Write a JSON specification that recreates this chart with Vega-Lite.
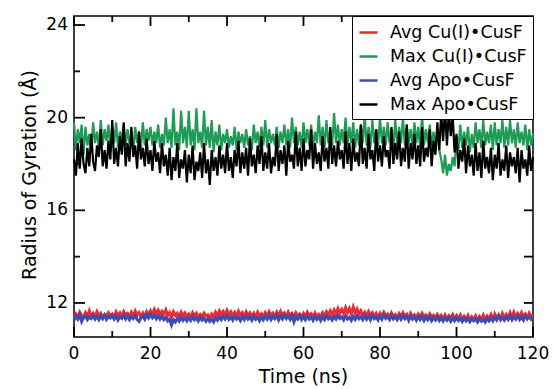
{
"$schema": "https://vega.github.io/schema/vega-lite/v6.json",
"width": 459,
"height": 321,
"autosize": {"type": "none"},
"padding": {"left": 74, "top": 16, "right": 20, "bottom": 52},
"background": "white",
"config": {
  "view": {"stroke": "black", "strokeWidth": 1.5},
  "font": "DejaVu Sans",
  "legend": {"orient": "top-right", "offset": 0, "strokeColor": "black", "strokeWidth": 1, "fillColor": "white", "padding": 6, "rowPadding": 5, "symbolType": "stroke", "symbolSize": 324, "symbolStrokeWidth": 2.5, "labelFontSize": 17.5, "labelOffset": 11, "labelFont": "DejaVu Sans", "labelColor": "black", "cornerRadius": 0}
},
"layer": [
  {
    "data": {"values": [
{"t":0,"a":11.35,"b":19.8,"c":11.25,"d":18.2},
{"t":0.5,"a":11.52,"b":18.6,"c":11.42,"d":17.5},
{"t":1,"a":11.40,"b":19.5,"c":11.30,"d":18.9},
{"t":1.5,"a":11.60,"b":18.9,"c":11.48,"d":17.8},
{"t":2,"a":11.45,"b":19.7,"c":11.20,"d":19.1},
{"t":2.5,"a":11.38,"b":18.4,"c":11.38,"d":18.0},
{"t":3,"a":11.58,"b":19.6,"c":11.45,"d":17.6},
{"t":3.5,"a":11.44,"b":18.8,"c":11.28,"d":18.7},
{"t":4,"a":11.66,"b":19.3,"c":11.40,"d":17.9},
{"t":4.5,"a":11.41,"b":18.5,"c":11.33,"d":19.3},
{"t":5,"a":11.55,"b":19.8,"c":11.46,"d":18.1},
{"t":5.5,"a":11.39,"b":18.9,"c":11.30,"d":17.7},
{"t":6,"a":11.62,"b":19.4,"c":11.42,"d":18.8},
{"t":6.5,"a":11.47,"b":18.7,"c":11.27,"d":18.3},
{"t":7,"a":11.56,"b":19.9,"c":11.44,"d":19.5},
{"t":7.5,"a":11.36,"b":18.8,"c":11.32,"d":17.9},
{"t":8,"a":11.50,"b":19.5,"c":11.47,"d":18.6},
{"t":8.5,"a":11.42,"b":19.0,"c":11.29,"d":17.8},
{"t":9,"a":11.58,"b":19.7,"c":11.41,"d":19.0},
{"t":9.5,"a":11.45,"b":18.6,"c":11.35,"d":18.2},
{"t":10,"a":11.52,"b":19.6,"c":11.45,"d":19.9},
{"t":10.5,"a":11.37,"b":18.9,"c":11.30,"d":18.0},
{"t":11,"a":11.61,"b":19.8,"c":11.43,"d":18.7},
{"t":11.5,"a":11.46,"b":18.7,"c":11.26,"d":17.9},
{"t":12,"a":11.57,"b":19.4,"c":11.40,"d":19.2},
{"t":12.5,"a":11.40,"b":19.0,"c":11.34,"d":18.4},
{"t":13,"a":11.63,"b":19.7,"c":11.48,"d":19.8},
{"t":13.5,"a":11.48,"b":18.8,"c":11.31,"d":17.9},
{"t":14,"a":11.55,"b":19.5,"c":11.44,"d":18.9},
{"t":14.5,"a":11.43,"b":18.9,"c":11.28,"d":18.1},
{"t":15,"a":11.60,"b":19.3,"c":11.42,"d":19.6},
{"t":15.5,"a":11.44,"b":18.6,"c":11.33,"d":18.3},
{"t":16,"a":11.65,"b":19.6,"c":11.46,"d":18.8},
{"t":16.5,"a":11.47,"b":18.9,"c":11.29,"d":17.8},
{"t":17,"a":11.58,"b":19.4,"c":11.20,"d":19.4},
{"t":17.5,"a":11.41,"b":18.7,"c":11.36,"d":18.2},
{"t":18,"a":11.56,"b":19.8,"c":11.44,"d":18.7},
{"t":18.5,"a":11.38,"b":18.8,"c":11.30,"d":17.9},
{"t":19,"a":11.62,"b":19.5,"c":11.48,"d":19.1},
{"t":19.5,"a":11.49,"b":19.0,"c":11.35,"d":18.0},
{"t":20,"a":11.66,"b":19.6,"c":11.50,"d":18.6},
{"t":20.5,"a":11.50,"b":18.8,"c":11.36,"d":17.7},
{"t":21,"a":11.72,"b":19.4,"c":11.47,"d":19.0},
{"t":21.5,"a":11.55,"b":18.9,"c":11.32,"d":18.1},
{"t":22,"a":11.68,"b":19.7,"c":11.45,"d":18.5},
{"t":22.5,"a":11.48,"b":18.7,"c":11.30,"d":17.6},
{"t":23,"a":11.64,"b":19.3,"c":11.42,"d":18.9},
{"t":23.5,"a":11.52,"b":18.8,"c":11.28,"d":17.9},
{"t":24,"a":11.70,"b":20.0,"c":11.38,"d":18.4},
{"t":24.5,"a":11.45,"b":18.9,"c":11.22,"d":17.5},
{"t":25,"a":11.58,"b":19.5,"c":11.30,"d":18.7},
{"t":25.5,"a":11.40,"b":18.7,"c":11.05,"d":17.3},
{"t":26,"a":11.62,"b":20.4,"c":11.28,"d":18.3},
{"t":26.5,"a":11.46,"b":18.8,"c":11.18,"d":17.7},
{"t":27,"a":11.55,"b":19.4,"c":11.34,"d":18.9},
{"t":27.5,"a":11.39,"b":18.6,"c":11.22,"d":17.4},
{"t":28,"a":11.60,"b":20.3,"c":11.38,"d":18.2},
{"t":28.5,"a":11.44,"b":18.9,"c":11.25,"d":17.8},
{"t":29,"a":11.57,"b":19.6,"c":11.36,"d":18.6},
{"t":29.5,"a":11.42,"b":18.7,"c":11.23,"d":17.2},
{"t":30,"a":11.52,"b":20.3,"c":11.37,"d":18.4},
{"t":30.5,"a":11.38,"b":18.8,"c":11.24,"d":17.6},
{"t":31,"a":11.58,"b":19.5,"c":11.40,"d":18.8},
{"t":31.5,"a":11.43,"b":18.6,"c":11.27,"d":17.3},
{"t":32,"a":11.55,"b":20.4,"c":11.35,"d":18.1},
{"t":32.5,"a":11.37,"b":18.9,"c":11.22,"d":17.7},
{"t":33,"a":11.50,"b":19.4,"c":11.38,"d":18.5},
{"t":33.5,"a":11.41,"b":18.7,"c":11.26,"d":17.4},
{"t":34,"a":11.56,"b":20.3,"c":11.34,"d":18.9},
{"t":34.5,"a":11.44,"b":18.8,"c":11.21,"d":17.6},
{"t":35,"a":11.48,"b":19.6,"c":11.33,"d":18.2},
{"t":35.5,"a":11.34,"b":18.7,"c":11.20,"d":17.1},
{"t":36,"a":11.52,"b":19.9,"c":11.30,"d":18.6},
{"t":36.5,"a":11.40,"b":18.5,"c":11.18,"d":17.7},
{"t":37,"a":11.60,"b":19.4,"c":11.36,"d":18.3},
{"t":37.5,"a":11.46,"b":18.8,"c":11.25,"d":17.5},
{"t":38,"a":11.66,"b":19.7,"c":11.40,"d":18.8},
{"t":38.5,"a":11.50,"b":18.6,"c":11.28,"d":17.8},
{"t":39,"a":11.63,"b":19.3,"c":11.42,"d":18.4},
{"t":39.5,"a":11.47,"b":18.9,"c":11.30,"d":17.6},
{"t":40,"a":11.68,"b":19.5,"c":11.45,"d":18.9},
{"t":40.5,"a":11.49,"b":18.7,"c":11.29,"d":17.7},
{"t":41,"a":11.62,"b":19.2,"c":11.40,"d":18.3},
{"t":41.5,"a":11.45,"b":18.8,"c":11.26,"d":17.4},
{"t":42,"a":11.59,"b":19.6,"c":11.43,"d":18.6},
{"t":42.5,"a":11.42,"b":18.6,"c":11.30,"d":17.9},
{"t":43,"a":11.64,"b":19.4,"c":11.38,"d":19.0},
{"t":43.5,"a":11.47,"b":18.9,"c":11.24,"d":17.6},
{"t":44,"a":11.58,"b":19.3,"c":11.41,"d":18.5},
{"t":44.5,"a":11.41,"b":18.7,"c":11.28,"d":17.8},
{"t":45,"a":11.62,"b":19.5,"c":11.44,"d":18.7},
{"t":45.5,"a":11.46,"b":18.8,"c":11.30,"d":17.5},
{"t":46,"a":11.57,"b":19.2,"c":11.39,"d":19.1},
{"t":46.5,"a":11.40,"b":18.6,"c":11.25,"d":17.9},
{"t":47,"a":11.55,"b":19.7,"c":11.42,"d":18.4},
{"t":47.5,"a":11.38,"b":18.9,"c":11.29,"d":17.6},
{"t":48,"a":11.60,"b":19.4,"c":11.37,"d":18.8},
{"t":48.5,"a":11.44,"b":18.7,"c":11.23,"d":18.0},
{"t":49,"a":11.53,"b":19.6,"c":11.40,"d":19.2},
{"t":49.5,"a":11.39,"b":18.8,"c":11.27,"d":17.7},
{"t":50,"a":11.58,"b":19.9,"c":11.43,"d":18.5},
{"t":50.5,"a":11.43,"b":18.7,"c":11.30,"d":17.8},
{"t":51,"a":11.62,"b":19.5,"c":11.46,"d":18.9},
{"t":51.5,"a":11.47,"b":18.9,"c":11.28,"d":17.6},
{"t":52,"a":11.56,"b":19.3,"c":11.41,"d":18.3},
{"t":52.5,"a":11.41,"b":18.8,"c":11.32,"d":17.9},
{"t":53,"a":11.60,"b":19.6,"c":11.47,"d":19.3},
{"t":53.5,"a":11.45,"b":18.7,"c":11.26,"d":17.7},
{"t":54,"a":11.64,"b":19.4,"c":11.43,"d":18.6},
{"t":54.5,"a":11.48,"b":18.9,"c":11.31,"d":18.0},
{"t":55,"a":11.57,"b":19.7,"c":11.48,"d":18.8},
{"t":55.5,"a":11.40,"b":18.8,"c":11.33,"d":17.5},
{"t":56,"a":11.61,"b":19.5,"c":11.44,"d":19.0},
{"t":56.5,"a":11.46,"b":18.7,"c":11.29,"d":18.1},
{"t":57,"a":11.55,"b":20.0,"c":11.46,"d":18.4},
{"t":57.5,"a":11.39,"b":18.9,"c":11.18,"d":17.8},
{"t":58,"a":11.58,"b":19.6,"c":11.40,"d":19.4},
{"t":58.5,"a":11.44,"b":18.8,"c":11.30,"d":17.9},
{"t":59,"a":11.52,"b":19.4,"c":11.45,"d":18.7},
{"t":59.5,"a":11.38,"b":18.7,"c":11.28,"d":17.7},
{"t":60,"a":11.55,"b":19.8,"c":11.42,"d":19.1},
{"t":60.5,"a":11.41,"b":18.9,"c":11.27,"d":17.9},
{"t":61,"a":11.60,"b":19.5,"c":11.44,"d":18.6},
{"t":61.5,"a":11.45,"b":18.8,"c":11.30,"d":18.2},
{"t":62,"a":11.53,"b":19.7,"c":11.40,"d":19.5},
{"t":62.5,"a":11.37,"b":18.7,"c":11.25,"d":17.8},
{"t":63,"a":11.57,"b":19.4,"c":11.43,"d":18.9},
{"t":63.5,"a":11.43,"b":18.9,"c":11.29,"d":18.0},
{"t":64,"a":11.51,"b":20.1,"c":11.38,"d":18.5},
{"t":64.5,"a":11.40,"b":18.8,"c":11.24,"d":17.7},
{"t":65,"a":11.58,"b":19.6,"c":11.41,"d":19.2},
{"t":65.5,"a":11.44,"b":18.7,"c":11.28,"d":18.1},
{"t":66,"a":11.62,"b":19.9,"c":11.45,"d":18.7},
{"t":66.5,"a":11.48,"b":18.9,"c":11.31,"d":17.8},
{"t":67,"a":11.66,"b":19.5,"c":11.39,"d":19.6},
{"t":67.5,"a":11.50,"b":18.8,"c":11.26,"d":18.0},
{"t":68,"a":11.70,"b":20.2,"c":11.42,"d":18.8},
{"t":68.5,"a":11.52,"b":18.9,"c":11.30,"d":17.9},
{"t":69,"a":11.75,"b":19.7,"c":11.46,"d":19.0},
{"t":69.5,"a":11.55,"b":18.8,"c":11.33,"d":18.2},
{"t":70,"a":11.72,"b":19.5,"c":11.40,"d":18.6},
{"t":70.5,"a":11.56,"b":18.9,"c":11.27,"d":17.8},
{"t":71,"a":11.80,"b":20.0,"c":11.44,"d":19.4},
{"t":71.5,"a":11.58,"b":18.8,"c":11.30,"d":18.0},
{"t":72,"a":11.76,"b":19.6,"c":11.38,"d":18.9},
{"t":72.5,"a":11.54,"b":18.9,"c":11.25,"d":17.7},
{"t":73,"a":11.82,"b":19.8,"c":11.42,"d":19.1},
{"t":73.5,"a":11.57,"b":18.7,"c":11.29,"d":18.1},
{"t":74,"a":11.74,"b":19.5,"c":11.45,"d":18.5},
{"t":74.5,"a":11.52,"b":18.8,"c":11.32,"d":17.9},
{"t":75,"a":11.66,"b":19.7,"c":11.41,"d":19.7},
{"t":75.5,"a":11.47,"b":18.9,"c":11.28,"d":18.0},
{"t":76,"a":11.60,"b":20.1,"c":11.46,"d":18.7},
{"t":76.5,"a":11.44,"b":18.8,"c":11.30,"d":17.8},
{"t":77,"a":11.63,"b":19.6,"c":11.43,"d":19.3},
{"t":77.5,"a":11.46,"b":18.7,"c":11.27,"d":18.2},
{"t":78,"a":11.58,"b":19.9,"c":11.47,"d":18.6},
{"t":78.5,"a":11.41,"b":18.9,"c":11.32,"d":17.7},
{"t":79,"a":11.55,"b":19.5,"c":11.40,"d":19.5},
{"t":79.5,"a":11.39,"b":18.8,"c":11.26,"d":18.1},
{"t":80,"a":11.56,"b":20.0,"c":11.44,"d":18.8},
{"t":80.5,"a":11.42,"b":18.9,"c":11.30,"d":17.9},
{"t":81,"a":11.60,"b":19.6,"c":11.48,"d":19.2},
{"t":81.5,"a":11.45,"b":18.8,"c":11.33,"d":18.3},
{"t":82,"a":11.52,"b":19.8,"c":11.42,"d":18.6},
{"t":82.5,"a":11.38,"b":18.9,"c":11.28,"d":17.8},
{"t":83,"a":11.57,"b":19.5,"c":11.45,"d":19.6},
{"t":83.5,"a":11.43,"b":18.7,"c":11.31,"d":18.0},
{"t":84,"a":11.50,"b":19.9,"c":11.40,"d":18.9},
{"t":84.5,"a":11.36,"b":18.8,"c":11.27,"d":18.2},
{"t":85,"a":11.54,"b":19.6,"c":11.43,"d":19.4},
{"t":85.5,"a":11.40,"b":18.9,"c":11.29,"d":17.9},
{"t":86,"a":11.58,"b":20.0,"c":11.46,"d":18.7},
{"t":86.5,"a":11.44,"b":18.8,"c":11.32,"d":18.1},
{"t":87,"a":11.51,"b":19.7,"c":11.41,"d":19.7},
{"t":87.5,"a":11.28,"b":18.9,"c":11.26,"d":17.8},
{"t":88,"a":11.55,"b":19.5,"c":11.44,"d":18.9},
{"t":88.5,"a":11.41,"b":18.8,"c":11.30,"d":18.2},
{"t":89,"a":11.49,"b":19.8,"c":11.39,"d":19.3},
{"t":89.5,"a":11.37,"b":18.9,"c":11.25,"d":18.0},
{"t":90,"a":11.52,"b":19.6,"c":11.42,"d":18.8},
{"t":90.5,"a":11.39,"b":18.7,"c":11.28,"d":17.9},
{"t":91,"a":11.56,"b":20.1,"c":11.40,"d":19.6},
{"t":91.5,"a":11.42,"b":18.8,"c":11.24,"d":18.1},
{"t":92,"a":11.48,"b":19.5,"c":11.38,"d":18.7},
{"t":92.5,"a":11.35,"b":18.9,"c":11.27,"d":18.3},
{"t":93,"a":11.53,"b":19.7,"c":11.41,"d":19.5},
{"t":93.5,"a":11.40,"b":18.8,"c":11.23,"d":17.9},
{"t":94,"a":11.47,"b":19.4,"c":11.37,"d":19.0},
{"t":94.5,"a":11.33,"b":18.7,"c":11.26,"d":18.4},
{"t":95,"a":11.50,"b":19.5,"c":11.39,"d":19.8},
{"t":95.5,"a":11.36,"b":18.6,"c":11.24,"d":18.6},
{"t":96,"a":11.46,"b":18.2,"c":11.36,"d":20.2},
{"t":96.5,"a":11.32,"b":17.6,"c":11.22,"d":19.0},
{"t":97,"a":11.48,"b":18.4,"c":11.35,"d":20.4},
{"t":97.5,"a":11.30,"b":17.5,"c":11.25,"d":18.8},
{"t":98,"a":11.44,"b":18.0,"c":11.38,"d":20.3},
{"t":98.5,"a":11.34,"b":17.7,"c":11.21,"d":19.2},
{"t":99,"a":11.50,"b":18.3,"c":11.34,"d":20.1},
{"t":99.5,"a":11.29,"b":17.9,"c":11.23,"d":18.5},
{"t":100,"a":11.45,"b":19.2,"c":11.37,"d":19.3},
{"t":100.5,"a":11.31,"b":18.6,"c":11.24,"d":17.8},
{"t":101,"a":11.48,"b":19.7,"c":11.33,"d":18.6},
{"t":101.5,"a":11.26,"b":18.7,"c":11.20,"d":18.1},
{"t":102,"a":11.42,"b":19.4,"c":11.36,"d":19.1},
{"t":102.5,"a":11.30,"b":18.8,"c":11.22,"d":17.6},
{"t":103,"a":11.46,"b":19.6,"c":11.31,"d":18.8},
{"t":103.5,"a":11.24,"b":18.5,"c":11.19,"d":17.9},
{"t":104,"a":11.40,"b":19.3,"c":11.34,"d":18.4},
{"t":104.5,"a":11.28,"b":18.7,"c":11.23,"d":17.5},
{"t":105,"a":11.44,"b":19.8,"c":11.30,"d":18.9},
{"t":105.5,"a":11.22,"b":18.9,"c":11.18,"d":17.7},
{"t":106,"a":11.41,"b":19.5,"c":11.33,"d":18.5},
{"t":106.5,"a":11.29,"b":18.7,"c":11.21,"d":17.4},
{"t":107,"a":11.47,"b":19.9,"c":11.28,"d":19.0},
{"t":107.5,"a":11.25,"b":18.8,"c":11.17,"d":17.8},
{"t":108,"a":11.43,"b":19.4,"c":11.32,"d":18.3},
{"t":108.5,"a":11.31,"b":18.9,"c":11.22,"d":17.6},
{"t":109,"a":11.49,"b":19.7,"c":11.35,"d":18.7},
{"t":109.5,"a":11.27,"b":18.6,"c":11.24,"d":17.3},
{"t":110,"a":11.52,"b":19.8,"c":11.38,"d":18.4},
{"t":110.5,"a":11.35,"b":18.8,"c":11.26,"d":17.8},
{"t":111,"a":11.48,"b":19.5,"c":11.42,"d":18.9},
{"t":111.5,"a":11.30,"b":18.9,"c":11.28,"d":17.5},
{"t":112,"a":11.55,"b":19.9,"c":11.36,"d":18.2},
{"t":112.5,"a":11.38,"b":18.7,"c":11.25,"d":17.7},
{"t":113,"a":11.50,"b":19.6,"c":11.40,"d":18.8},
{"t":113.5,"a":11.33,"b":18.8,"c":11.29,"d":17.4},
{"t":114,"a":11.57,"b":19.9,"c":11.44,"d":18.5},
{"t":114.5,"a":11.36,"b":18.9,"c":11.27,"d":17.9},
{"t":115,"a":11.60,"b":19.5,"c":11.41,"d":18.3},
{"t":115.5,"a":11.40,"b":18.7,"c":11.30,"d":17.6},
{"t":116,"a":11.54,"b":19.8,"c":11.45,"d":18.7},
{"t":116.5,"a":11.37,"b":18.9,"c":11.28,"d":17.2},
{"t":117,"a":11.58,"b":19.4,"c":11.39,"d":18.6},
{"t":117.5,"a":11.42,"b":18.8,"c":11.26,"d":17.8},
{"t":118,"a":11.52,"b":19.7,"c":11.43,"d":18.2},
{"t":118.5,"a":11.35,"b":18.6,"c":11.31,"d":17.5},
{"t":119,"a":11.56,"b":19.5,"c":11.40,"d":18.8},
{"t":119.5,"a":11.40,"b":18.8,"c":11.29,"d":17.7},
{"t":120,"a":11.48,"b":19.3,"c":11.36,"d":18.3}
    ]},
    "transform": [{"fold": ["a", "b", "c", "d"], "as": ["k", "v"]}],
    "mark": {"type": "line"},
    "encoding": {
      "x": {"field": "t", "type": "quantitative", "scale": {"domain": [0, 120], "nice": false, "zero": false}, "axis": null},
      "y": {"field": "v", "type": "quantitative", "scale": {"domain": [10.53, 24.39], "nice": false, "zero": false}, "axis": null},
      "color": {"field": "k", "type": "nominal",
        "scale": {"domain": ["a", "b", "c", "d"], "range": ["#ec2a2f", "#1e9b55", "#3b4cb3", "#000000"]},
        "legend": {"title": null, "labelExpr": "datum.value === 'a' ? 'Avg Cu(I)•CusF' : datum.value === 'b' ? 'Max Cu(I)•CusF' : datum.value === 'c' ? 'Avg Apo•CusF' : 'Max Apo•CusF'"}},
      "strokeWidth": {"condition": {"test": "datum.k === 'a' || datum.k === 'c'", "value": 3}, "value": 2.2}
    }
  },
  {
    "data": {"values": [{"p":0},{"p":20},{"p":40},{"p":60},{"p":80},{"p":100},{"p":120}]},
    "mark": {"type": "text", "font": "DejaVu Sans", "fontSize": 17, "color": "black", "align": "center", "baseline": "top", "dy": 9},
    "encoding": {
      "x": {"field": "p", "type": "quantitative", "axis": null},
      "y": {"datum": 10.53, "type": "quantitative", "axis": null},
      "text": {"field": "p", "type": "quantitative"}
    }
  },
  {
    "data": {"values": [{"p":12},{"p":16},{"p":20},{"p":24}]},
    "mark": {"type": "text", "font": "DejaVu Sans", "fontSize": 17, "color": "black", "align": "right", "baseline": "middle", "dx": -6},
    "encoding": {
      "y": {"field": "p", "type": "quantitative", "axis": null},
      "x": {"datum": 0, "type": "quantitative", "axis": null},
      "text": {"field": "p", "type": "quantitative"}
    }
  },
  {
    "data": {"values": [{"label": "Time (ns)"}]},
    "mark": {"type": "text", "font": "DejaVu Sans", "fontSize": 19, "color": "black", "align": "center", "baseline": "top", "dy": 31},
    "encoding": {
      "x": {"datum": 60, "type": "quantitative", "axis": null},
      "y": {"datum": 10.53, "type": "quantitative", "axis": null},
      "text": {"field": "label", "type": "nominal"}
    }
  },
  {
    "data": {"values": [{"label": "Radius of Gyration (Å)"}]},
    "mark": {"type": "text", "font": "DejaVu Sans", "fontSize": 19, "color": "black", "align": "center", "baseline": "bottom", "angle": 270, "dy": -34},
    "encoding": {
      "x": {"datum": 0, "type": "quantitative", "axis": null},
      "y": {"datum": 17.525, "type": "quantitative", "axis": null},
      "text": {"field": "label", "type": "nominal"}
    }
  },
  {
    "data": {"values": [{"p":0},{"p":20},{"p":40},{"p":60},{"p":80},{"p":100},{"p":120}]},
    "mark": {"type": "rule", "color": "black", "strokeWidth": 1.8, "opacity": 1},
    "encoding": {"x": {"field": "p", "type": "quantitative", "axis": null}, "y": {"datum": 10.53, "type": "quantitative", "axis": null}, "y2": {"datum": 10.962}}
  },
  {
    "data": {"values": [{"p":10},{"p":30},{"p":50},{"p":70},{"p":90},{"p":110}]},
    "mark": {"type": "rule", "color": "black", "strokeWidth": 1.8, "opacity": 1},
    "encoding": {"x": {"field": "p", "type": "quantitative", "axis": null}, "y": {"datum": 10.53, "type": "quantitative", "axis": null}, "y2": {"datum": 10.789}}
  },
  {
    "data": {"values": [{"p":0},{"p":20},{"p":40},{"p":60},{"p":80},{"p":100},{"p":120}]},
    "mark": {"type": "rule", "color": "black", "strokeWidth": 1.8, "opacity": 1},
    "encoding": {"x": {"field": "p", "type": "quantitative", "axis": null}, "y": {"datum": 24.39, "type": "quantitative", "axis": null}, "y2": {"datum": 23.958}}
  },
  {
    "data": {"values": [{"p":10},{"p":30},{"p":50},{"p":70},{"p":90},{"p":110}]},
    "mark": {"type": "rule", "color": "black", "strokeWidth": 1.8, "opacity": 1},
    "encoding": {"x": {"field": "p", "type": "quantitative", "axis": null}, "y": {"datum": 24.39, "type": "quantitative", "axis": null}, "y2": {"datum": 24.131}}
  },
  {
    "data": {"values": [{"p":12},{"p":16},{"p":20},{"p":24}]},
    "mark": {"type": "rule", "color": "black", "strokeWidth": 1.8, "opacity": 1},
    "encoding": {"y": {"field": "p", "type": "quantitative", "axis": null}, "x": {"datum": 0, "type": "quantitative", "axis": null}, "x2": {"datum": 2.876}}
  },
  {
    "data": {"values": [{"p":14},{"p":18},{"p":22}]},
    "mark": {"type": "rule", "color": "black", "strokeWidth": 1.8, "opacity": 1},
    "encoding": {"y": {"field": "p", "type": "quantitative", "axis": null}, "x": {"datum": 0, "type": "quantitative", "axis": null}, "x2": {"datum": 1.569}}
  },
  {
    "data": {"values": [{"p":12},{"p":14},{"p":16},{"p":18},{"p":20},{"p":22},{"p":24}]},
    "mark": {"type": "rule", "color": "black", "strokeWidth": 1.8, "opacity": 1},
    "encoding": {"y": {"field": "p", "type": "quantitative", "axis": null}, "x": {"datum": 120, "type": "quantitative", "axis": null}, "x2": {"datum": 117.647}}
  }
]
}
